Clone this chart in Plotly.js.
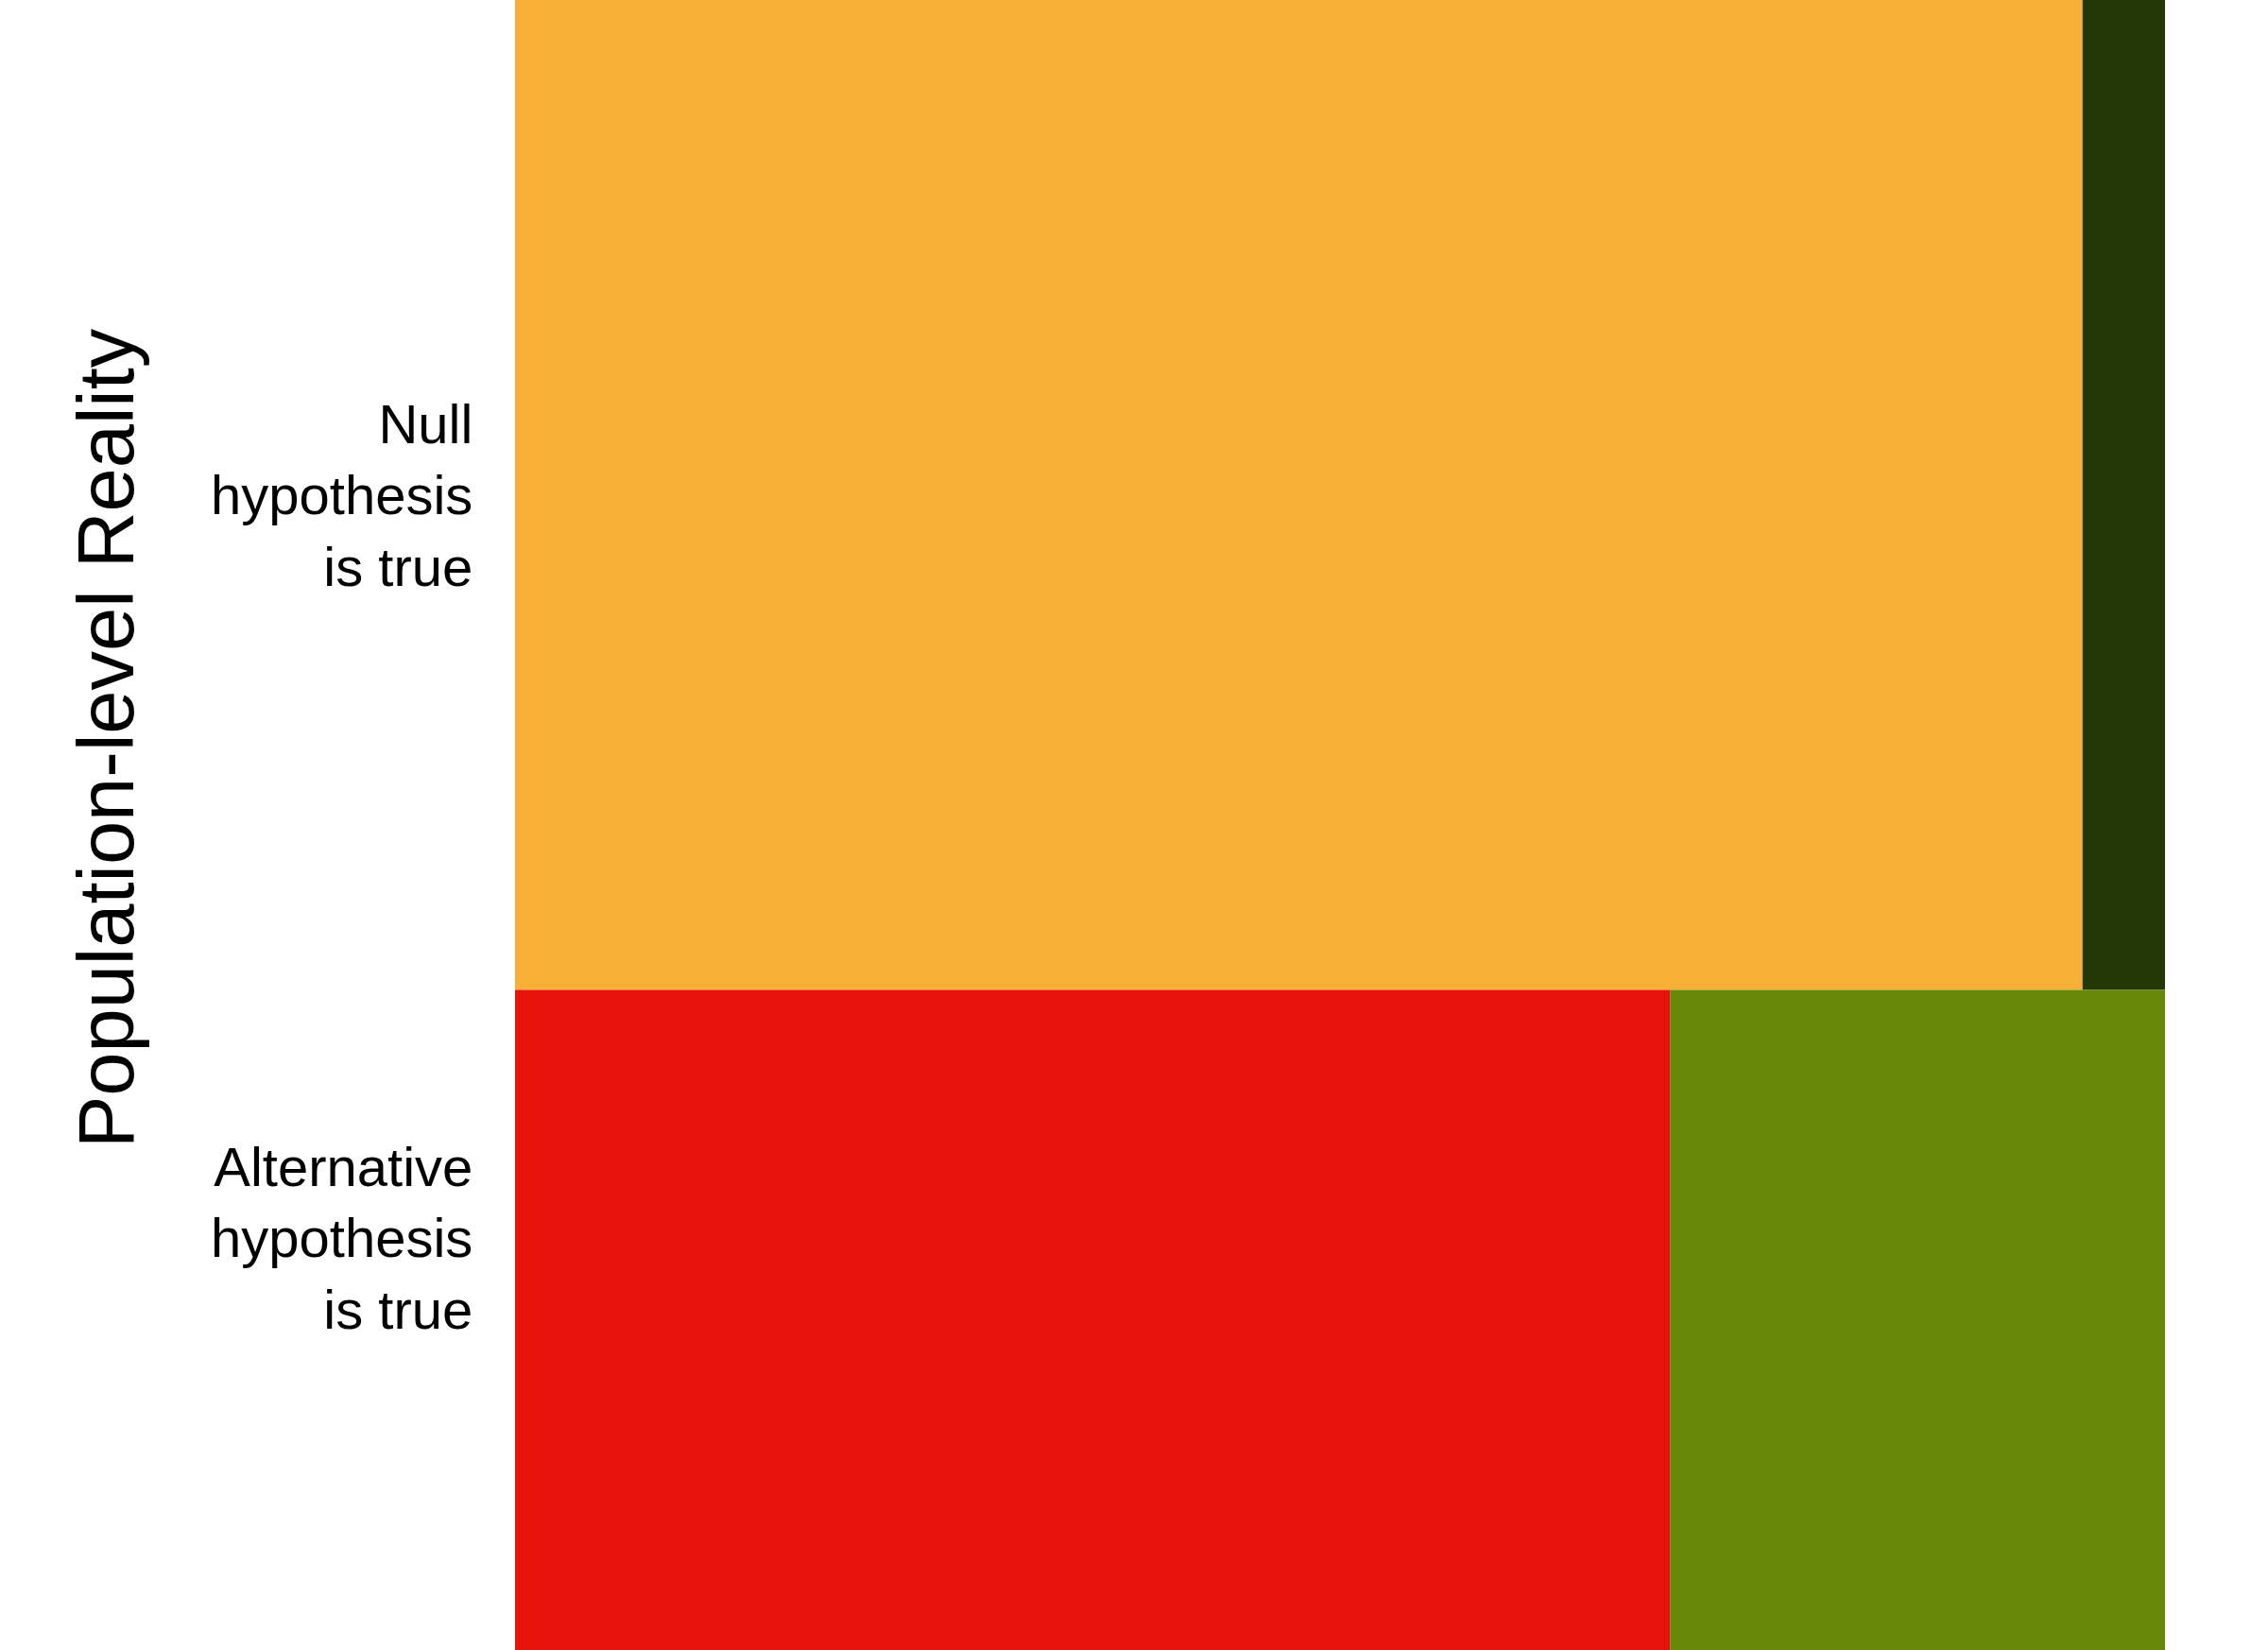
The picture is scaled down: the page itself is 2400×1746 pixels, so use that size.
<!DOCTYPE html>
<html>
<head>
<meta charset="utf-8">
<script src="https://cdn.plot.ly/plotly-3.0.1.min.js"></script>
<style>
  html, body { margin: 0; padding: 0; background: #ffffff; }
  #chart { width: 2400px; height: 1746px; }
</style>
</head>
<body>
<div id="chart"></div>
<script>
// Rows of the mosaic (population-level reality)
const rowLabels = ['Null<br>hypothesis<br>is true', 'Alternative<br>hypothesis<br>is true'];
// Share of all studies in each row
const rowShare = [0.6, 0.4];
// Within each row: share where the null is NOT rejected, and where it IS rejected
const failShare = [0.95, 0.7];
const rejectShare = [0.05, 0.3];
// Colours per row for each decision
const failColors = ['#F8AF36', '#E6120B'];
const rejectColors = ['#223807', '#668806'];

// Row centres derived from the shares (top row first)
const rowCenters = [];
let rowTop = 1;
for (let i = 0; i < rowShare.length; i++) {
  rowCenters.push(rowTop - rowShare[i] / 2);
  rowTop -= rowShare[i];
}

const traces = [
  {
    type: 'bar', orientation: 'h',
    y: rowCenters, x: failShare, base: [0, 0], width: rowShare,
    marker: { color: failColors, line: { width: 0 } },
    hoverinfo: 'skip', showlegend: false
  },
  {
    type: 'bar', orientation: 'h',
    y: rowCenters, x: rejectShare, base: failShare, width: rowShare,
    marker: { color: rejectColors, line: { width: 0 } },
    hoverinfo: 'skip', showlegend: false
  }
];

// label vertical positions
const labelY = [rowCenters[0], 0.25];

const annotations = rowLabels.map((t, i) => ({
  text: t, xref: 'paper', yref: 'y', x: 0, y: labelY[i],
  xanchor: 'right', yanchor: 'middle', align: 'right', xshift: -43,
  showarrow: false,
  font: { family: 'Liberation Sans, Arial, sans-serif', size: 58, color: '#000000' }
}));
annotations.push({
  text: 'Population-level Reality', xref: 'paper', yref: 'paper',
  x: 0, y: 1 - 781 / 1746, xshift: -432, xanchor: 'center', yanchor: 'middle',
  textangle: -90, showarrow: false,
  font: { family: 'Liberation Sans, Arial, sans-serif', size: 83, color: '#000000' }
});

const layout = {
  width: 2400, height: 1746,
  margin: { l: 545, r: 109, t: 0, b: 0, pad: 0 },
  paper_bgcolor: '#ffffff', plot_bgcolor: '#ffffff',
  barmode: 'overlay',
  xaxis: { range: [0, 1], visible: false, fixedrange: true },
  yaxis: { range: [0, 1], visible: false, fixedrange: true },
  annotations: annotations,
  showlegend: false
};

Plotly.newPlot('chart', traces, layout, { displayModeBar: false, staticPlot: true });
</script>
</body>
</html>
